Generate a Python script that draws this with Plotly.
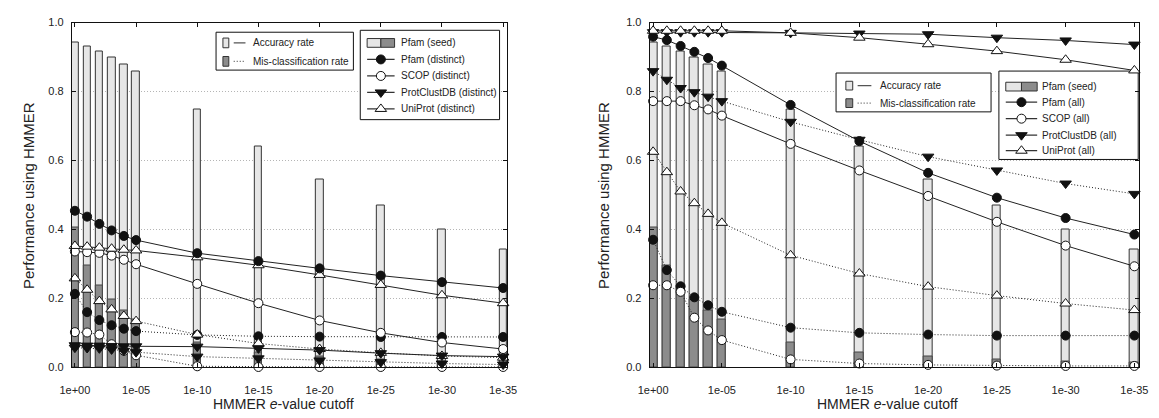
import plotly.graph_objects as go

W, H = 1159, 418

# ---------------- data ----------------
exponents = [0, 1, 2, 3, 4, 5, 10, 15, 20, 25, 30, 35]
tick_vals = [0, 5, 10, 15, 20, 25, 30, 35]
tick_text = ["1e+00", "1e-05", "1e-10", "1e-15", "1e-20", "1e-25", "1e-30", "1e-35"]
y_ticks = [0.0, 0.2, 0.4, 0.6, 0.8, 1.0]

seed_accuracy = [0.942, 0.930, 0.915, 0.898, 0.878, 0.858, 0.747, 0.639, 0.546, 0.468, 0.400, 0.342]
seed_misclass = [0.405, 0.296, 0.237, 0.196, 0.164, 0.139, 0.072, 0.044, 0.030, 0.022, 0.017, 0.014]

# left panel: distinct
pfam_d_acc = [0.454, 0.437, 0.416, 0.397, 0.381, 0.369, 0.331, 0.308, 0.287, 0.266, 0.247, 0.230]
scop_d_acc = [0.336, 0.334, 0.332, 0.324, 0.312, 0.299, 0.242, 0.186, 0.136, 0.100, 0.072, 0.053]
pcdb_d_acc = [0.064, 0.063, 0.063, 0.062, 0.061, 0.061, 0.060, 0.055, 0.050, 0.041, 0.034, 0.031]
uni_d_acc = [0.352, 0.350, 0.347, 0.344, 0.341, 0.339, 0.319, 0.296, 0.268, 0.239, 0.209, 0.186]
pfam_d_mis = [0.213, 0.160, 0.137, 0.122, 0.112, 0.105, 0.094, 0.090, 0.089, 0.088, 0.088, 0.088]
scop_d_mis = [0.102, 0.101, 0.095, 0.067, 0.048, 0.035, 0.003, 0.001, 0.001, 0.001, 0.001, 0.001]
pcdb_d_mis = [0.057, 0.056, 0.055, 0.052, 0.048, 0.044, 0.031, 0.026, 0.020, 0.015, 0.011, 0.008]
uni_d_mis = [0.258, 0.225, 0.192, 0.168, 0.149, 0.134, 0.095, 0.069, 0.053, 0.042, 0.033, 0.028]

# right panel: all
pfam_a_acc = [0.959, 0.949, 0.932, 0.915, 0.897, 0.875, 0.761, 0.656, 0.564, 0.492, 0.433, 0.385]
scop_a_acc = [0.772, 0.772, 0.772, 0.760, 0.748, 0.730, 0.648, 0.571, 0.497, 0.422, 0.353, 0.293]
pcdb_a_acc = [0.972, 0.972, 0.972, 0.972, 0.972, 0.972, 0.970, 0.968, 0.966, 0.956, 0.948, 0.936]
uni_a_acc = [0.976, 0.976, 0.976, 0.976, 0.976, 0.976, 0.970, 0.956, 0.937, 0.917, 0.892, 0.861]
pfam_a_mis = [0.370, 0.282, 0.235, 0.203, 0.180, 0.161, 0.115, 0.100, 0.095, 0.092, 0.092, 0.092]
scop_a_mis = [0.238, 0.238, 0.219, 0.144, 0.107, 0.079, 0.023, 0.011, 0.007, 0.005, 0.004, 0.004]
pcdb_a_mis = [0.859, 0.834, 0.810, 0.798, 0.785, 0.772, 0.712, 0.660, 0.611, 0.571, 0.533, 0.503]
uni_a_mis = [0.625, 0.566, 0.510, 0.476, 0.445, 0.419, 0.325, 0.272, 0.234, 0.208, 0.185, 0.166]

left_labels = ["Pfam (seed)", "Pfam (distinct)", "SCOP (distinct)", "ProtClustDB (distinct)", "UniProt (distinct)"]
right_labels = ["Pfam (seed)", "Pfam (all)", "SCOP (all)", "ProtClustDB (all)", "UniProt (all)"]
rate_labels = ["Accuracy rate", "Mis-classification rate"]

# ---------------- layout geometry (pixels) ----------------
XL = (61, 505)
XR = (650, 1149)
YT, YB = 17, 372
XRANGE = [-0.25, 35.35]
FONT = "Liberation Sans, Arial, sans-serif"
TXT = "#222222"
LIGHT = "#e6e6e6"
DARK = "#8c8c8c"
DOTS = "1px,2px"

def px2x(px, panel):
    a, b = panel
    return XRANGE[0] + (px - a) / (b - a) * (XRANGE[1] - XRANGE[0])

def py2y(py):
    return (YB - py) / (YB - YT)

fig = go.Figure()

styles = {
    "pfam": dict(symbol="circle", color="#111111", line=dict(color="#111111", width=1), size=9),
    "scop": dict(symbol="circle", color="white", line=dict(color="#111111", width=1), size=9),
    "pcdb": dict(symbol="triangle-down", color="#111111", line=dict(color="#111111", width=1), size=10),
    "uni": dict(symbol="triangle-up", color="white", line=dict(color="#111111", width=1), size=10),
}

def add_panel(xa, ya, series):
    fig.add_trace(go.Bar(x=exponents, y=seed_accuracy, width=0.62, xaxis=xa, yaxis=ya,
                         marker=dict(color=LIGHT, line=dict(color="#333333", width=1)), showlegend=False))
    fig.add_trace(go.Bar(x=exponents, y=seed_misclass, width=0.62, xaxis=xa, yaxis=ya,
                         marker=dict(color=DARK, line=dict(color="#444444", width=1)), showlegend=False))
    for key, vals, dash in series:
        fig.add_trace(go.Scatter(x=exponents, y=vals, xaxis=xa, yaxis=ya, mode="lines+markers",
                                 line=dict(color="#222222", width=1, dash=dash),
                                 marker=styles[key], showlegend=False, cliponaxis=False))

add_panel("x", "y", [
    ("pfam", pfam_d_mis, DOTS), ("scop", scop_d_mis, DOTS), ("pcdb", pcdb_d_mis, DOTS), ("uni", uni_d_mis, DOTS),
    ("pcdb", pcdb_d_acc, "solid"), ("scop", scop_d_acc, "solid"), ("uni", uni_d_acc, "solid"), ("pfam", pfam_d_acc, "solid"),
])
add_panel("x2", "y2", [
    ("pfam", pfam_a_mis, DOTS), ("scop", scop_a_mis, DOTS), ("pcdb", pcdb_a_mis, DOTS), ("uni", uni_a_mis, DOTS),
    ("scop", scop_a_acc, "solid"), ("pfam", pfam_a_acc, "solid"), ("pcdb", pcdb_a_acc, "solid"), ("uni", uni_a_acc, "solid"),
])

shapes = []
annotations = []

def box(panel, xr, yr, x0, y0, x1, y1):
    shapes.append(dict(type="rect", xref=xr, yref=yr, layer="between",
                       x0=px2x(x0, panel), x1=px2x(x1, panel), y0=py2y(y0), y1=py2y(y1),
                       fillcolor="white", line=dict(color="#111111", width=1)))

def rect(panel, xr, yr, x0, y0, x1, y1, fill):
    shapes.append(dict(type="rect", xref=xr, yref=yr, layer="above",
                       x0=px2x(x0, panel), x1=px2x(x1, panel), y0=py2y(y0), y1=py2y(y1),
                       fillcolor=fill, line=dict(color="#333333", width=1)))

def text(px, py, s):
    annotations.append(dict(x=px / W, y=1 - py / H, xref="paper", yref="paper", text=s, showarrow=False,
                            xanchor="left", yanchor="middle", borderpad=0,
                            font=dict(family=FONT, size=10, color=TXT)))

def legend_line(panel, xa, ya, x0, x1, py, dash, color, key=None):
    fig.add_trace(go.Scatter(x=[px2x(x0, panel), px2x(x1, panel)], y=[py2y(py)] * 2, xaxis=xa, yaxis=ya,
                             mode="lines", line=dict(color=color, width=1.2, dash=dash), showlegend=False))
    if key:
        fig.add_trace(go.Scatter(x=[px2x((x0 + x1) / 2, panel)], y=[py2y(py)], xaxis=xa, yaxis=ya,
                                 mode="markers", marker=styles[key], showlegend=False))

def rate_legend(panel, xa, ya, bx0, by0, bx1, by1, rows, sq_x, sq_w, sq_h, ln_x0, ln_x1, tx):
    box(panel, xa, ya, bx0, by0, bx1, by1)
    for (py, fill, dash, lab) in zip(rows, [LIGHT, DARK], ["solid", DOTS], rate_labels):
        rect(panel, xa, ya, sq_x, py - sq_h / 2, sq_x + sq_w, py + sq_h / 2, fill)
        legend_line(panel, xa, ya, ln_x0, ln_x1, py, dash, "#555555")
        text(tx, py, lab)

def db_legend(panel, xa, ya, bx0, by0, bx1, by1, rows, ix0, ix1, tx, labels):
    box(panel, xa, ya, bx0, by0, bx1, by1)
    mid = (ix0 + ix1) / 2
    rect(panel, xa, ya, ix0, rows[0] - 4.5, mid, rows[0] + 4.5, LIGHT)
    rect(panel, xa, ya, mid, rows[0] - 4.5, ix1, rows[0] + 4.5, DARK)
    text(tx, rows[0], labels[0])
    for py, key, lab in zip(rows[1:], ["pfam", "scop", "pcdb", "uni"], labels[1:]):
        legend_line(panel, xa, ya, ix0, ix1, py, "solid", "#333333", key)
        text(tx, py, lab)

# left panel legends
rate_legend(XL, "x", "y", 208, 27, 348, 66, [38, 57], 215, 6, 10, 226, 238, 245)
db_legend(XL, "x", "y", 355, 25, 497, 117, [38, 55, 72, 89, 106], 362, 390, 396, left_labels)
# right panel legends
rate_legend(XR, "x2", "y2", 840, 69, 998, 109, [82, 100], 850, 7, 9, 862, 876, 884)
db_legend(XR, "x2", "y2", 1006, 67, 1148, 158, [83, 99, 116, 133, 149], 1013, 1045, 1049, right_labels)

# axis titles
for cx in (17, 603):
    annotations.append(dict(x=cx / W, y=1 - 195 / H, xref="paper", yref="paper", text="Performance using HMMER",
                            textangle=-90, showarrow=False, xanchor="center", yanchor="middle",
                            font=dict(family=FONT, size=15, color=TXT)))
for cx in (277, 892):
    annotations.append(dict(x=cx / W, y=1 - 410 / H, xref="paper", yref="paper", text="HMMER <i>e</i>-value cutoff",
                            showarrow=False, xanchor="center", yanchor="middle",
                            font=dict(family=FONT, size=14, color=TXT)))

xcommon = dict(range=XRANGE, tickvals=tick_vals, ticktext=tick_text, showgrid=False, zeroline=False,
               showline=True, linecolor="#111111", linewidth=1, mirror="ticks", ticks="inside", ticklen=4,
               tickcolor="#111111", tickfont=dict(family=FONT, size=11, color=TXT), ticklabelstandoff=12)
ycommon = dict(range=[0, 1], tickvals=y_ticks, tickformat=".1f", showgrid=True, gridcolor="#b5b5b5",
               griddash=DOTS, gridwidth=1, zeroline=False, showline=True, linecolor="#111111", linewidth=1,
               mirror="ticks", ticks="inside", ticklen=4, tickcolor="#111111",
               tickfont=dict(family=FONT, size=11, color=TXT), ticklabelstandoff=5)

ydom = [1 - YB / H, 1 - YT / H]
fig.update_layout(
    width=W, height=H, margin=dict(l=0, r=0, t=0, b=0),
    paper_bgcolor="white", plot_bgcolor="white", barmode="overlay", bargap=0,
    xaxis=dict(domain=[XL[0] / W, XL[1] / W], anchor="y", **xcommon),
    yaxis=dict(domain=ydom, anchor="x", **ycommon),
    xaxis2=dict(domain=[XR[0] / W, XR[1] / W], anchor="y2", **xcommon),
    yaxis2=dict(domain=ydom, anchor="x2", **ycommon),
    shapes=shapes, annotations=annotations, showlegend=False,
)

fig.write_html("out.html")
